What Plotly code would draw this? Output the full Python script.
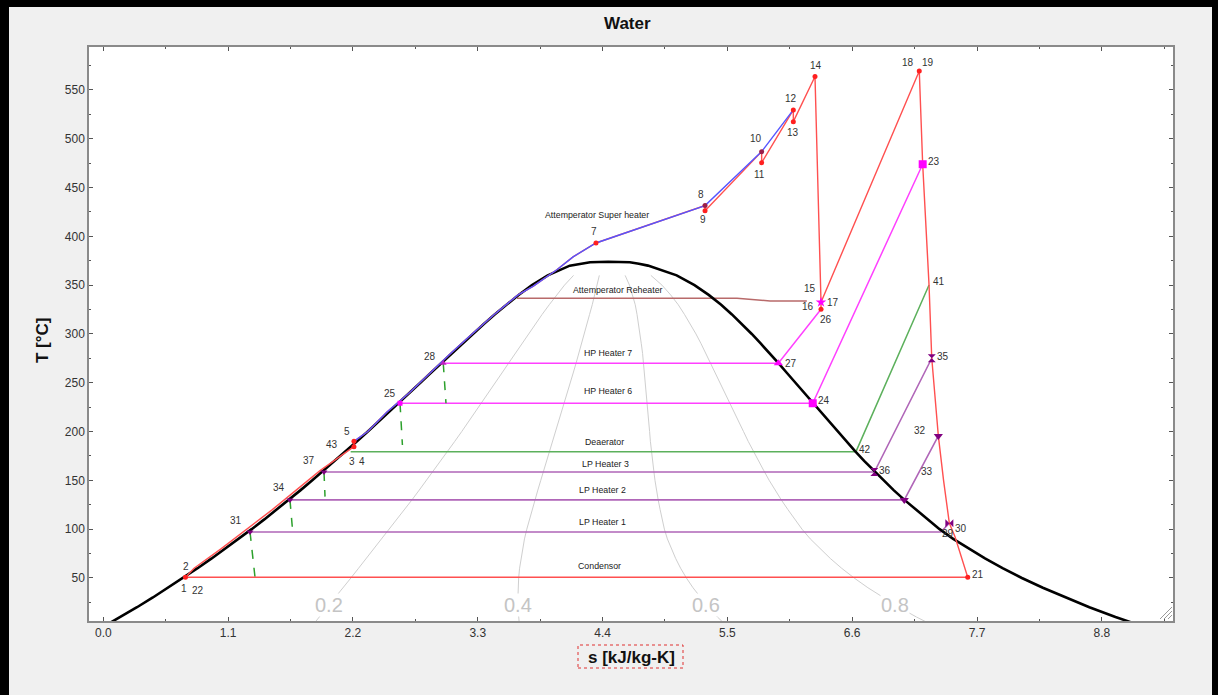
import numpy as np
import plotly.graph_objects as go

# ---------------- saturation dome of water (T in degC, s in kJ/kg-K) ----------------
sat_T = [0.01, 10, 20, 30, 40, 50, 60, 70, 80, 90, 100, 110, 120, 130, 140, 150, 160, 170, 180, 190,
         200, 210, 220, 230, 240, 250, 260, 270, 280, 290, 300, 310, 320, 330, 340, 350, 360, 370, 372, 373.5]
sat_sf = [0.0, 0.151, 0.297, 0.437, 0.572, 0.704, 0.831, 0.955, 1.076, 1.193, 1.307, 1.419, 1.528, 1.635,
          1.739, 1.842, 1.943, 2.042, 2.139, 2.236, 2.331, 2.425, 2.518, 2.610, 2.702, 2.794, 2.885, 2.977,
          3.069, 3.161, 3.255, 3.351, 3.449, 3.552, 3.660, 3.778, 3.917, 4.111, 4.20, 4.29]
sat_sg = [9.17, 8.92, 8.69, 8.48, 8.28, 8.095, 7.925, 7.77, 7.625, 7.49, 7.37, 7.26, 7.16, 7.06, 6.965,
          6.875, 6.79, 6.705, 6.625, 6.545, 6.47, 6.395, 6.32, 6.248, 6.175, 6.10, 6.025, 5.95, 5.875,
          5.795, 5.715, 5.63, 5.54, 5.445, 5.335, 5.21, 5.053, 4.80, 4.72, 4.64]
crit_s = 4.45
crit_T = 374.0

quality_levels = [0.2, 0.4, 0.6, 0.8]
quality_T_max = 360

# ---------------- cycle states ----------------
state_name = ["1", "3", "5", "7", "8", "9", "10", "11", "12", "13", "14", "15", "26", "18",
              "23", "41", "35", "32", "30", "21", "27", "28", "24", "25", "42", "43", "36", "37",
              "33", "34", "29", "31",
              "p1", "p2", "p3", "p4", "p5", "p6",
              "b1", "b2", "b3", "b4", "b5", "b6", "b7", "b8", "b9", "b10", "b11",
              "t1", "t2"]
state_s = [0.724, 2.209, 2.209, 4.342, 5.303, 5.303, 5.802, 5.802, 6.081, 6.081, 6.272, 6.325, 6.325, 7.191,
           7.221, 7.277, 7.301, 7.359, 7.456, 7.618, 5.949, 2.996, 6.252, 2.615, 6.633, 2.18, 6.795, 1.945,
           7.059, 1.645, 7.380, 1.293,
           0.80, 1.04, 1.27, 1.49, 1.70, 1.91,
           2.33, 2.50, 2.70, 2.88, 3.06, 3.25, 3.445, 3.655, 3.79, 4.00, 4.14,
           7.405, 7.506]
state_T = [50.7, 184.5, 190.0, 393.2, 431.5, 426.3, 486.8, 475.5, 529.5, 517.5, 563.8, 332.5, 325.3, 569.5,
           473.9, 350.2, 275.1, 195.5, 106.0, 50.7, 270.0, 270.0, 229.0, 229.0, 179.4, 179.4, 158.5, 158.5,
           130.0, 130.0, 97.1, 97.1,
           60, 80, 100, 120, 140, 160,
           200, 220, 240, 260, 280, 300, 320, 340, 349, 366, 379,
           150, 92.3]

# paths (lists of state names)
red_paths = [
    ["1", "p1", "p2", "p3", "p4", "p5", "p6", "3", "5", "b1", "b2", "b3", "b4", "b5", "b6", "b7", "b8",
     "b9", "b10", "b11", "7", "8", "9", "10", "11", "12", "13", "14", "15", "26"],
    ["15", "18", "23", "41", "35", "32", "t1", "30", "t2", "21", "1"],
]
blue_path = ["5", "b1", "b2", "b3", "b4", "b5", "b6", "b7", "b8", "b9", "b10", "b11", "7", "8", "10", "12"]
magenta_paths = [["26", "27", "28"], ["23", "24", "25"]]
green_paths = [["41", "42", "43"]]
purple_paths = [["35", "36", "37"], ["32", "33", "34"], ["30", "29", "31"]]

drain_from = ["28", "25", "37", "34", "31"]
drain_to_s = [3.02, 2.636, 1.954, 1.669, 1.337]
drain_to_T = [229.0, 186.3, 133.3, 97.5, 50.7]

reheat_att_s = [3.646, 5.585, 5.876, 6.20]
reheat_att_T = [336.6, 336.6, 333.8, 333.8]

# markers
marker_groups = [
    (["1", "3", "5", "7", "9", "11", "12", "13", "14", "18", "21", "26"], "circle", 5, "#ff2020"),
    (["8", "10"], "circle", 5, "#9a1f4a"),
    (["23", "24"], "square", 8, "#ff00ff"),
    (["27"], "triangle-up", 8, "#ff00ff"),
    (["15"], "star", 8, "#ff00ff"),
    (["25"], "square", 5, "#ff00ff"),
    (["28"], "triangle-up", 6, "#c020c0"),
    (["35", "36"], "hourglass", 8, "#800080"),
    (["32", "33"], "triangle-down", 8, "#800080"),
    (["30"], "bowtie", 8, "#800080"),
    (["31", "34", "37"], "triangle-down", 6, "#800080"),
]

# point labels: text, anchor state, pixel offset (dx right, dy down)
label_text = ["1", "22", "2", "43", "5", "3", "4", "31", "34", "37", "25", "28", "7", "8", "9", "10", "11",
              "12", "13", "14", "15", "16", "17", "26", "18", "19", "23", "41", "35", "32", "33", "30", "29",
              "21", "27", "24", "42", "36"]
label_anchor = ["1", "1", "1", "3", "5", "3", "3", "31", "34", "37", "25", "28", "7", "8", "9", "10", "11",
                "12", "13", "14", "15", "15", "15", "26", "18", "18", "23", "41", "35", "32", "33", "30", "29",
                "21", "27", "24", "42", "36"]
label_dx = [-1.5, 12.5, 0.5, -22, -7, -2, 8, -14, -11, -15, -10, -13, -2, -4, -2, -6, -2,
            -2, 0, 1, -11, -13, 12, 5, -11, 9, 11, 10, 11, -18, 23, 12, 7,
            10, 13, 11, 9, 11]
label_dy = [11, 13, -11, -2, -10, 15, 15, -11, -12.5, -11.7, -10, -7, -11, -11, 9, -13, 12,
            -11, 11, -10.5, -14, 4, 0, 10, -8, -8, -3, -3, -2, -5, -28, 5, 2,
            -3, 0, -3, -2, -2]

heater_text = ["Attemperator Super heater", "Attemperator Reheater", "HP Heater 7", "HP Heater 6", "Deaerator",
               "LP Heater 3", "LP Heater 2", "LP Heater 1", "Condensor"]
heater_s = [4.352, 4.536, 4.448, 4.448, 4.413, 4.428, 4.401, 4.398, 4.371]
heater_T = [421.9, 345.1, 280.2, 241.6, 189.0, 166.5, 140.2, 107.1, 62.3]

x_ticks = [0.0, 1.1, 2.2, 3.3, 4.4, 5.5, 6.6, 7.7, 8.8]
y_ticks = [50, 100, 150, 200, 250, 300, 350, 400, 450, 500, 550]

# ---------------------------------------------------------------------------------
S = dict(zip(state_name, state_s))
T = dict(zip(state_name, state_T))
FONT = "Liberation Sans, Arial, sans-serif"

fig = go.Figure()


def add_line(xs, ys, color, width=1.5, dash=None):
    fig.add_trace(go.Scatter(x=xs, y=ys, mode="lines",
                             line=dict(color=color, width=width, dash=dash),
                             hoverinfo="skip", showlegend=False))


def add_path(names, color, width=1.5):
    add_line([S[n] for n in names], [T[n] for n in names], color, width)


# quality lines
nq = sum(1 for t in sat_T if t <= quality_T_max)
q_lines = []
for q in quality_levels:
    qs = [sat_sf[i] + q * (sat_sg[i] - sat_sf[i]) for i in range(nq)]
    qt = sat_T[:nq]
    q_lines.append((qs, qt))
    add_line(qs, qt, "#cfcfcf", 1)

# attemperator reheater line
add_line(reheat_att_s, reheat_att_T, "#b86a6a", 1.5)

# heater lines
for p in magenta_paths:
    add_path(p, "#ff40ff", 1.5)
for p in green_paths:
    add_path(p, "#5cb05c", 1.5)
for p in purple_paths:
    add_path(p, "#b066b8", 1.6)

# drains (dashed green)
for a, s2, t2 in zip(drain_from, drain_to_s, drain_to_T):
    add_line([S[a], s2], [T[a], t2], "#2ca02c", 1.5, "dash")

# dome
dome_s = sat_sf + [crit_s] + sat_sg[::-1]
dome_T = sat_T + [crit_T] + sat_T[::-1]
add_line(dome_s, dome_T, "#000000", 2.6)

# red cycle
for p in red_paths:
    add_path(p, "#ff5050", 1.4)
# blue boiler line
add_path(blue_path, "#5555ff", 1.4)

# markers
for names, sym, size, col in marker_groups:
    fig.add_trace(go.Scatter(x=[S[n] for n in names], y=[T[n] for n in names], mode="markers",
                             marker=dict(symbol=sym, size=size, color=col, line=dict(width=0)),
                             hoverinfo="skip", showlegend=False))

annotations = []
for txt, a, dx, dy in zip(label_text, label_anchor, label_dx, label_dy):
    annotations.append(dict(x=S[a], y=T[a], xref="x", yref="y", text=txt, showarrow=False,
                            xanchor="center", yanchor="middle",
                            xshift=dx, yshift=-dy, font=dict(family=FONT, size=10, color="#333333")))
for txt, s, t in zip(heater_text, heater_s, heater_T):
    annotations.append(dict(x=s, y=t, xref="x", yref="y", text=txt, showarrow=False,
                            xanchor="center", yanchor="middle",
                            font=dict(family=FONT, size=8.8, color="#222222")))
for q, (qs, qt) in zip(quality_levels, q_lines):
    xs = float(np.interp(22.5, qt, qs))
    annotations.append(dict(x=xs, y=22.5, xref="x", yref="y", text=f"{q:.1f}", showarrow=False,
                            xanchor="center", yanchor="middle", bgcolor="#ffffff", borderpad=0,
                            font=dict(family=FONT, size=20, color="#c4c4c4")))

# plot area pixels: x 89..1173, y 47..621
PL, PR, PT, PB = 89, 1173, 47, 621
W, H = 1218, 695


def px(x):
    return (x - PL) / (PR - PL)


def py(y):
    return (PB - y) / (PB - PT)


annotations.append(dict(x=px(627), y=py(24), xref="paper", yref="paper", text="<b>Water</b>",
                        xanchor="center", yanchor="middle",
                        showarrow=False, font=dict(family=FONT, size=17, color="#111111")))
annotations.append(dict(x=px(631), y=py(657), xref="paper", yref="paper", text="<b>s [kJ/kg-K]</b>",
                        xanchor="center", yanchor="middle",
                        showarrow=False, font=dict(family=FONT, size=17, color="#111111")))
annotations.append(dict(x=px(42), y=py(340), xref="paper", yref="paper", text="<b>T [°C]</b>",
                        xanchor="center", yanchor="middle",
                        textangle=-90, showarrow=False, font=dict(family=FONT, size=17, color="#111111")))

shapes = [
    dict(type="rect", xref="paper", yref="paper", x0=px(0), x1=px(W), y0=py(0), y1=py(7),
         fillcolor="#000000", line=dict(width=0), layer="above"),
    dict(type="rect", xref="paper", yref="paper", x0=px(0), x1=px(9), y0=py(H), y1=py(0),
         fillcolor="#000000", line=dict(width=0), layer="above"),
    dict(type="rect", xref="paper", yref="paper", x0=px(1212), x1=px(W), y0=py(H), y1=py(0),
         fillcolor="#000000", line=dict(width=0), layer="above"),
    dict(type="rect", xref="paper", yref="paper", x0=px(578), x1=px(683), y0=py(668), y1=py(645),
         line=dict(color="#e03030", width=1, dash="dot"), fillcolor="rgba(0,0,0,0)"),
]
# window resize grip in the plot corner
for k in (4, 8, 12):
    shapes.append(dict(type="line", xref="paper", yref="paper",
                       x0=px(PR - 1 - k), y0=py(PB - 2), x1=px(PR - 1), y1=py(PB - 2 - k),
                       line=dict(color="#9a9a9a", width=1), layer="above"))

axis_common = dict(showgrid=False, zeroline=False, showline=True, linecolor="#8a8a8a", linewidth=1.5,
                   mirror="allticks", ticks="inside", ticklen=4, tickcolor="#555555", tickwidth=1,
                   tickfont=dict(family=FONT, size=12, color="#333333"))

fig.update_layout(
    width=W, height=H,
    margin=dict(l=PL, r=W - PR, t=PT, b=H - PB),
    paper_bgcolor="#f0f0f0", plot_bgcolor="#ffffff",
    showlegend=False,
    xaxis=dict(range=[-0.126, 9.427], tickmode="array", tickvals=x_ticks,
               ticktext=[f"{v:.1f}" for v in x_ticks],
               minor=dict(dtick=0.55, tick0=0, ticks="inside", ticklen=2, tickcolor="#555555"),
               **axis_common),
    yaxis=dict(range=[5.9, 594], tickmode="array", tickvals=y_ticks,
               minor=dict(dtick=25, tick0=0, ticks="inside", ticklen=2, tickcolor="#555555"),
               **axis_common),
    annotations=annotations,
    shapes=shapes,
)

fig.write_html("out.html", config={"displayModeBar": False},
               post_script="document.body.style.margin='0';document.body.style.overflow='hidden';")
